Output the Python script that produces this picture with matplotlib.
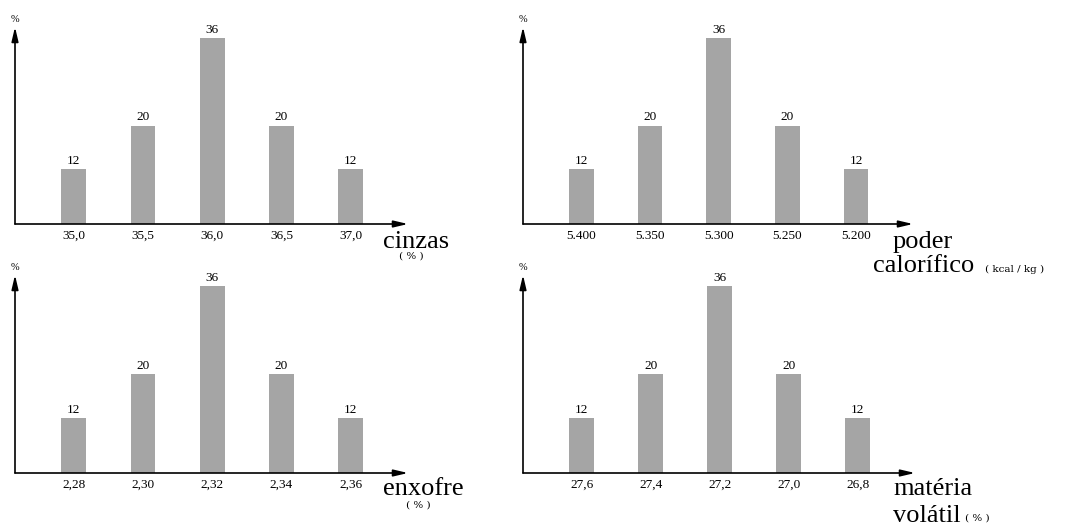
import matplotlib
matplotlib.use("Agg")
import matplotlib.pyplot as plt

# ---- data ----
freq = [12, 20, 36, 20, 12]
cinzas_ticks = ["35,0", "35,5", "36,0", "36,5", "37,0"]
poder_ticks = ["5.400", "5.350", "5.300", "5.250", "5.200"]
enxofre_ticks = ["2,28", "2,30", "2,32", "2,34", "2,36"]
materia_ticks = ["27,6", "27,4", "27,2", "27,0", "26,8"]

W, H = 1066, 525
fig = plt.figure(figsize=(W / 100, H / 100), dpi=100)
SERIF = ["Liberation Serif", "DejaVu Serif"]
WIDE = ["DejaVu Serif", "Liberation Serif"]
BAR_COLOR = "#a5a5a5"


def px_axes(x0, x1, ytop, ybase):
    return fig.add_axes([x0 / W, 1 - ybase / H, (x1 - x0) / W, (ybase - ytop) / H])


def panel(ax, ticks, values):
    x = list(range(len(values)))
    ax.bar(x, values, width=0.36, color=BAR_COLOR, zorder=2)
    ax.set_xlim(-0.85, 4.83)
    ax.set_ylim(2, 38)
    for s in ax.spines.values():
        s.set_visible(False)
    ax.set_yticks([])
    ax.set_xticks(x)
    ax.set_xticklabels(ticks, fontfamily=SERIF, fontsize=9.5)
    ax.tick_params(axis="x", length=0, pad=4)
    for xi, v in zip(x, values):
        ax.annotate(str(v), (xi, v), xytext=(0, 1.5), textcoords="offset points",
                    ha="center", va="bottom", fontfamily=SERIF, fontsize=9.5)
    ap = dict(arrowstyle="-|>,head_length=0.85,head_width=0.2", lw=1.2,
              color="black", shrinkA=0, shrinkB=0, mutation_scale=10)
    ax.annotate("", xy=(1, 0), xytext=(0, 0), xycoords="axes fraction",
                textcoords="axes fraction", arrowprops=ap, annotation_clip=False)
    ax.annotate("", xy=(0, 1), xytext=(0, 0), xycoords="axes fraction",
                textcoords="axes fraction", arrowprops=ap, annotation_clip=False)
    ax.annotate("%", (0, 1), xytext=(0, 2.5), textcoords="offset points",
                xycoords="axes fraction", ha="center", va="bottom",
                fontfamily=SERIF, fontsize=7.5, annotation_clip=False)


ax1 = px_axes(15, 408, 27, 224)
panel(ax1, cinzas_ticks, freq)
ax2 = px_axes(523, 913, 27, 224)
panel(ax2, poder_ticks, freq)
ax3 = px_axes(15, 408, 275, 473)
panel(ax3, enxofre_ticks, freq)
ax4 = px_axes(523, 915, 275, 473)
panel(ax4, materia_ticks, freq)


def ftext(x, y, s, size, ha="left", fam=SERIF):
    fig.text(x / W, 1 - y / H, s, fontfamily=fam, fontsize=size, ha=ha, va="baseline")


BIG = 19
SMALL = 7.5
ftext(383, 248, "cinzas", BIG)
ftext(411, 259, "( % )", SMALL, ha="center", fam=WIDE)
ftext(893, 248, "poder", BIG)
ftext(873, 272, "calorífico", BIG)
ftext(985, 272, "( kcal / kg )", SMALL, fam=WIDE)
ftext(383, 495, "enxofre", BIG)
ftext(418, 508, "( % )", SMALL, ha="center", fam=WIDE)
ftext(893, 495, "matéria", BIG)
ftext(893, 522, "volátil", BIG)
ftext(965, 521, "( % )", SMALL, fam=WIDE)

fig.savefig("out.png", dpi=100)
